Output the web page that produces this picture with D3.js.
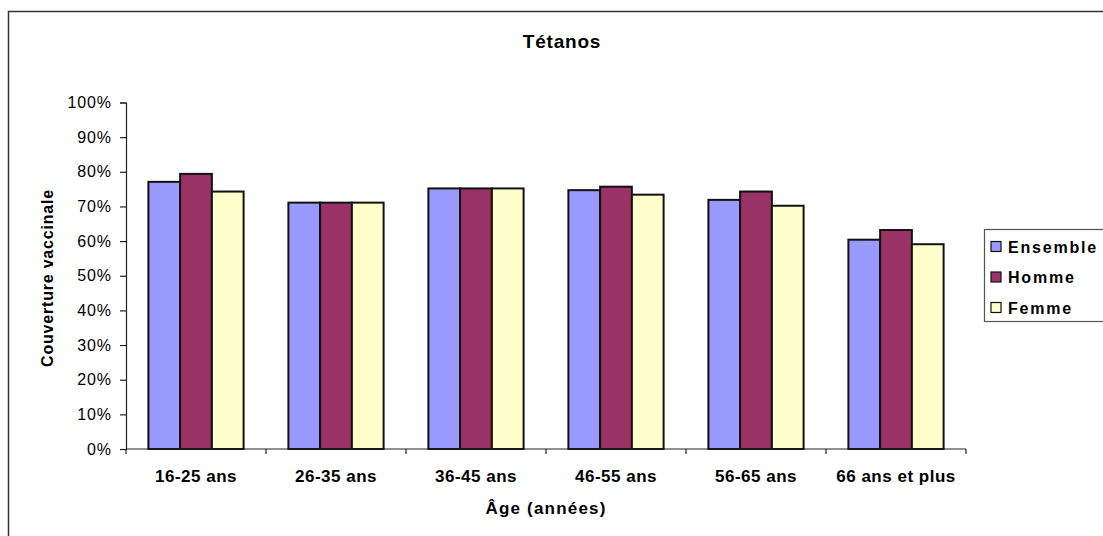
<!DOCTYPE html>
<html>
<head>
<meta charset="utf-8">
<script src="https://cdn.jsdelivr.net/npm/d3@7"></script>
<style>
  html, body { margin: 0; padding: 0; background: #fff; }
  svg { display: block; }
  text { font-family: "Liberation Sans", Arial, sans-serif; fill: #000; }
</style>
</head>
<body>
<svg id="chart" width="1103" height="536"></svg>
<script>
const categories = ["16-25 ans", "26-35 ans", "36-45 ans", "46-55 ans", "56-65 ans", "66 ans et plus"];
const seriesNames = ["Ensemble", "Homme", "Femme"];
const ensemble = [77.1, 71.1, 75.2, 74.7, 71.9, 60.4];
const homme    = [79.4, 71.1, 75.2, 75.7, 74.3, 63.2];
const femme    = [74.3, 71.1, 75.2, 73.4, 70.2, 59.1];
const seriesColors = ["#9999FF", "#993366", "#FFFFCC"];
const yTicks = [0, 10, 20, 30, 40, 50, 60, 70, 80, 90, 100];
const chartTitle = "Tétanos";
const xTitle = "Âge (années)";
const yTitle = "Couverture vaccinale";

const seriesValues = [ensemble, homme, femme];
const svg = d3.select("#chart");

// Outer frame
svg.append("rect")
  .attr("x", 8.5).attr("y", 11.5)
  .attr("width", 1200).attr("height", 600)
  .attr("fill", "none").attr("stroke", "#333").attr("stroke-width", 1.5);

const plot = { left: 126, right: 966, top: 102.5, bottom: 449 };

const x0 = d3.scaleBand().domain(categories)
  .range([plot.left, plot.right])
  .paddingInner(0.32).paddingOuter(0.16);
const x1 = d3.scaleBand().domain(seriesNames).range([0, x0.bandwidth()]).padding(0);
const y = d3.scaleLinear().domain([0, 100]).range([plot.bottom, plot.top]);

// Bars
const groups = svg.append("g").selectAll("g")
  .data(categories)
  .join("g")
  .attr("transform", d => `translate(${x0(d)},0)`);

groups.selectAll("rect")
  .data((c, i) => seriesNames.map((s, j) => ({ s, j, v: seriesValues[j][i] })))
  .join("rect")
  .attr("x", d => x1(d.s))
  .attr("width", x1.bandwidth())
  .attr("y", d => y(d.v))
  .attr("height", d => y(0) - y(d.v))
  .attr("fill", d => seriesColors[d.j])
  .attr("stroke", "#111")
  .attr("stroke-width", 2);

// Y axis
const yAxis = d3.axisLeft(y).tickValues(yTicks).tickFormat(d => d + "%").tickSize(6).tickPadding(8);
const gy = svg.append("g").attr("transform", `translate(${plot.left},0)`).call(yAxis);
gy.select(".domain").attr("stroke", "#222").attr("stroke-width", 1.2);
gy.selectAll(".tick line").attr("stroke", "#222").attr("stroke-width", 1.2);
gy.selectAll(".tick text")
  .attr("font-size", 16).attr("letter-spacing", "0.9px")
  .attr("font-family", "Liberation Sans, Arial, sans-serif")
  .attr("fill", "#111");

// X axis
const xAxisScale = d3.scaleLinear().domain([0, categories.length]).range([plot.left, plot.right]);
const gx = svg.append("g").attr("transform", `translate(0,${plot.bottom})`);
gx.append("line")
  .attr("x1", plot.left).attr("x2", plot.right)
  .attr("stroke", "#222").attr("stroke-width", 1.2);
gx.selectAll("line.tk")
  .data(d3.range(categories.length + 1))
  .join("line").attr("class", "tk")
  .attr("x1", d => xAxisScale(d)).attr("x2", d => xAxisScale(d))
  .attr("y1", 0).attr("y2", 5)
  .attr("stroke", "#222").attr("stroke-width", 1.2);
gx.selectAll("text")
  .data(categories)
  .join("text")
  .attr("x", d => x0(d) + x0.bandwidth() / 2)
  .attr("y", 32.5)
  .attr("text-anchor", "middle")
  .attr("font-size", 17).attr("font-weight", "bold")
  .attr("letter-spacing", "0.5px")
  .text(d => d);

// Titles
svg.append("text")
  .attr("x", 562).attr("y", 48)
  .attr("text-anchor", "middle")
  .attr("font-size", 19).attr("font-weight", "bold")
  .attr("letter-spacing", "0.8px")
  .text(chartTitle);

svg.append("text")
  .attr("x", (plot.left + plot.right) / 2).attr("y", 514)
  .attr("text-anchor", "middle")
  .attr("font-size", 17).attr("font-weight", "bold")
  .attr("letter-spacing", "1.2px")
  .text(xTitle);

svg.append("text")
  .attr("transform", `translate(52.5,278) rotate(-90)`)
  .attr("text-anchor", "middle")
  .attr("font-size", 16).attr("font-weight", "bold")
  .attr("letter-spacing", "0.8px")
  .text(yTitle);

// Legend
const legend = svg.append("g");
legend.append("rect")
  .attr("x", 984.5).attr("y", 229.5)
  .attr("width", 200).attr("height", 92)
  .attr("fill", "#fff").attr("stroke", "#555").attr("stroke-width", 1.2);
const li = legend.selectAll("g.item")
  .data(seriesNames)
  .join("g").attr("class", "item")
  .attr("transform", (d, i) => `translate(0,${246.5 + i * 30.5})`);
li.append("rect")
  .attr("x", 991).attr("y", -5).attr("width", 10).attr("height", 10)
  .attr("fill", (d, i) => seriesColors[i])
  .attr("stroke", "#111").attr("stroke-width", 1.2);
li.append("text")
  .attr("x", 1008).attr("y", 6)
  .attr("font-size", 16).attr("font-weight", "bold")
  .attr("letter-spacing", "1.8px")
  .text(d => d);
</script>
</body>
</html>
